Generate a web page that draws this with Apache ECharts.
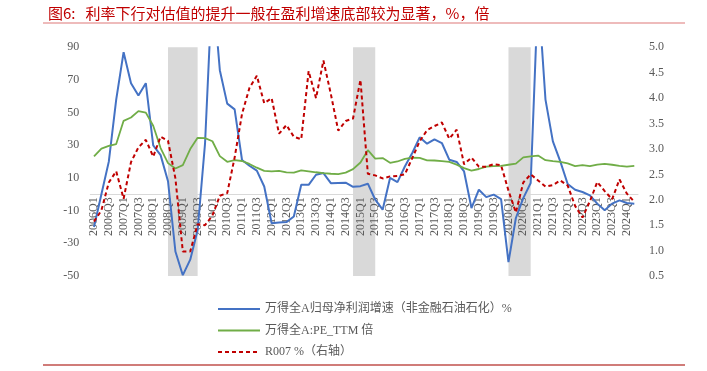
<!DOCTYPE html>
<html>
<head>
<meta charset="utf-8">
<script src="https://cdn.jsdelivr.net/npm/echarts@6/dist/echarts.min.js"></script>
<style>
html,body{margin:0;padding:0;background:#fff;}
#c{width:707px;height:371px;}
</style>
</head>
<body>
<div id="c"></div>
<script>
var categories = [
 '2006Q1','2006Q2','2006Q3','2006Q4','2007Q1','2007Q2','2007Q3','2007Q4',
 '2008Q1','2008Q2','2008Q3','2008Q4','2009Q1','2009Q2','2009Q3','2009Q4',
 '2010Q1','2010Q2','2010Q3','2010Q4','2011Q1','2011Q2','2011Q3','2011Q4',
 '2012Q1','2012Q2','2012Q3','2012Q4','2013Q1','2013Q2','2013Q3','2013Q4',
 '2014Q1','2014Q2','2014Q3','2014Q4','2015Q1','2015Q2','2015Q3','2015Q4',
 '2016Q1','2016Q2','2016Q3','2016Q4','2017Q1','2017Q2','2017Q3','2017Q4',
 '2018Q1','2018Q2','2018Q3','2018Q4','2019Q1','2019Q2','2019Q3','2019Q4',
 '2020Q1','2020Q2','2020Q3','2020Q4','2021Q1','2021Q2','2021Q3','2021Q4',
 '2022Q1','2022Q2','2022Q3','2022Q4','2023Q1','2023Q2','2023Q3','2023Q4',
 '2024Q1','2024Q2'
];
var profitGrowth = [
 -20, 0, 20, 58, 87, 68, 60.5, 68,
 30, 24, 8, -35, -49.5, -40, -22, 31,
 130, 76, 55.5, 52, 21, 17.5, 14.5, 4.8,
 -17.7, -17.2, -17, -13.6, 5.8, 5.8, 12, 13,
 6.8, 7, 7.1, 4.6, 5, 6.5, -3.3, -9.4,
 10, 7.5, 17, 25.3, 34.9, 31, 33.7, 31.4,
 21.2, 19.8, 14, -8.4, 2.8, -1.7, -0.2, -2.9,
 -41.5, -14.5, -2.3, 6.9, 125, 58, 32.4, 20.2,
 6.3, 2.8, 1.4, -0.6, -5.7, -9.8, -5.7, -3.7,
 -5.3, -5.7
];
var peTTM = [
 23.2, 28, 29.6, 30.8, 45, 47, 50.9, 50,
 42, 28.3, 19.1, 15.8, 17.9, 27.7, 34.6, 34.4,
 32.5, 23.4, 19.9, 20.9, 20.4, 18.6, 16.3, 14.4,
 14, 14.4, 13.4, 13.3, 14.7, 14.1, 13.5, 13,
 12.6, 12.4, 13.3, 15.4, 19.5, 27, 21.9, 22.2,
 19.3, 20.1, 21.7, 22.5, 22.3, 20.8, 20.7, 20.3,
 19.9, 18.2, 16, 14.5, 15.5, 17, 17.3, 17.4,
 18.1, 18.8, 22.6, 23.2, 23.7, 20.9, 20.3, 19.9,
 18.9, 17.3, 17.9, 17.2, 18.2, 18.6, 18.1, 17.4,
 16.9, 17.4
];
var r007 = [
 1.57, 1.79, 2.34, 2.56, 2.02, 2.74, 3.03, 3.18,
 2.85, 3.24, 3.16, 2.42, 0.98, 0.98, 1.52, 1.5,
 1.69, 2.08, 2.13, 2.83, 3.69, 4.2, 4.44, 3.9,
 4.0, 3.3, 3.47, 3.24, 3.19, 4.53, 4.0, 4.74,
 4.08, 3.36, 3.55, 3.6, 4.36, 2.51, 2.48, 2.42,
 2.46, 2.47, 2.5, 2.82, 3.15, 3.37, 3.45, 3.52,
 3.2, 3.38, 2.7, 2.83, 2.65, 2.65, 2.7, 2.68,
 2.18, 1.75, 2.34, 2.5, 2.38, 2.26, 2.29, 2.38,
 2.28, 1.88, 1.65, 1.97, 2.35, 2.17, 2.01, 2.4,
 2.12, 1.96
];
var shadedPeriods = [['2008Q3','2009Q3'],['2014Q4','2015Q3'],['2020Q1','2020Q4']];
var leftTicks = {min: -50, max: 90, interval: 20};
var rightTicks = {min: 0.5, max: 5.0, interval: 0.5};
var names = ['万得全A归母净利润增速（非金融石油石化）%', '万得全A:PE_TTM 倍', 'R007 %（右轴）'];
var titleText = '图6:   利率下行对估值的提升一般在盈利增速底部较为显著，%，倍';

var chart = echarts.init(document.getElementById('c'), null, {renderer: 'canvas'});
var serif = "'Liberation Serif', 'Noto Sans CJK SC', serif";
var gray = '#595959';
var gridTop = 47.3, gridBottom = 95, chartH = 371;
var plotH = chartH - gridTop - gridBottom;
// offset that moves the bottom axis up to left-axis value 0
var zeroOffset = -plotH * (0 - leftTicks.min) / (leftTicks.max - leftTicks.min);
var option = {
  backgroundColor: '#ffffff',
  animation: false,
  title: {
    text: titleText,
    left: 43, top: 1,
    textStyle: {color: '#C00000', fontSize: 15, fontWeight: 'normal', fontFamily: "'Noto Sans CJK SC', sans-serif"}
  },
  graphic: [
    {type: 'line', shape: {x1: 43, y1: 23, x2: 685, y2: 23}, style: {stroke: '#E8A5A5', lineWidth: 1.5}},
    {type: 'line', shape: {x1: 43, y1: 365, x2: 685, y2: 365}, style: {stroke: '#C0504D', lineWidth: 1.5}}
  ],
  legend: {
    orient: 'vertical',
    left: 212, top: 298,
    itemWidth: 42, itemHeight: 14, itemGap: 9.5,
    data: names,
    itemStyle: {opacity: 0},
    textStyle: {color: gray, fontSize: 12, fontFamily: serif}
  },
  grid: {left: 90.3, right: 69, top: gridTop, bottom: gridBottom, containLabel: false},
  xAxis: {
    type: 'category',
    data: categories,
    boundaryGap: true,
    position: 'bottom',
    offset: zeroOffset,
    z: 2,
    axisLine: {onZero: false, lineStyle: {color: '#D9D9D9', width: 1}},
    axisTick: {show: false},
    axisLabel: {rotate: 90, interval: 1, color: gray, fontSize: 12, fontFamily: serif, margin: 3}
  },
  yAxis: [
    {
      type: 'value', min: leftTicks.min, max: leftTicks.max, interval: leftTicks.interval,
      axisLine: {show: false}, axisTick: {show: false}, splitLine: {show: false},
      axisLabel: {color: gray, fontSize: 12, fontFamily: serif, margin: 11}
    },
    {
      type: 'value', min: rightTicks.min, max: rightTicks.max, interval: rightTicks.interval,
      axisLine: {show: false}, axisTick: {show: false}, splitLine: {show: false},
      axisLabel: {color: gray, fontSize: 12, fontFamily: serif, margin: 11,
        formatter: function (v) { return v.toFixed(1); }}
    }
  ],
  series: [
    {
      name: 'shade', type: 'line', data: [], z: 1, silent: true,
      markArea: {
        silent: true,
        itemStyle: {color: '#D9D9D9', opacity: 1},
        data: shadedPeriods.map(function (p) { return [{xAxis: p[0]}, {xAxis: p[1]}]; })
      }
    },
    {
      name: names[0], type: 'line', data: profitGrowth, yAxisIndex: 0, z: 3,
      symbol: 'none', lineStyle: {color: '#4472C4', width: 2}, itemStyle: {color: '#4472C4'}, clip: true
    },
    {
      name: names[1], type: 'line', data: peTTM, yAxisIndex: 0, z: 3,
      symbol: 'none', lineStyle: {color: '#70AD47', width: 1.8}, itemStyle: {color: '#70AD47'}
    },
    {
      name: names[2], type: 'line', data: r007, yAxisIndex: 1, z: 4,
      symbol: 'none', lineStyle: {color: '#C00000', width: 2, type: [4, 3]}, itemStyle: {color: '#C00000'}
    }
  ]
};
chart.setOption(option);
</script>
</body>
</html>
